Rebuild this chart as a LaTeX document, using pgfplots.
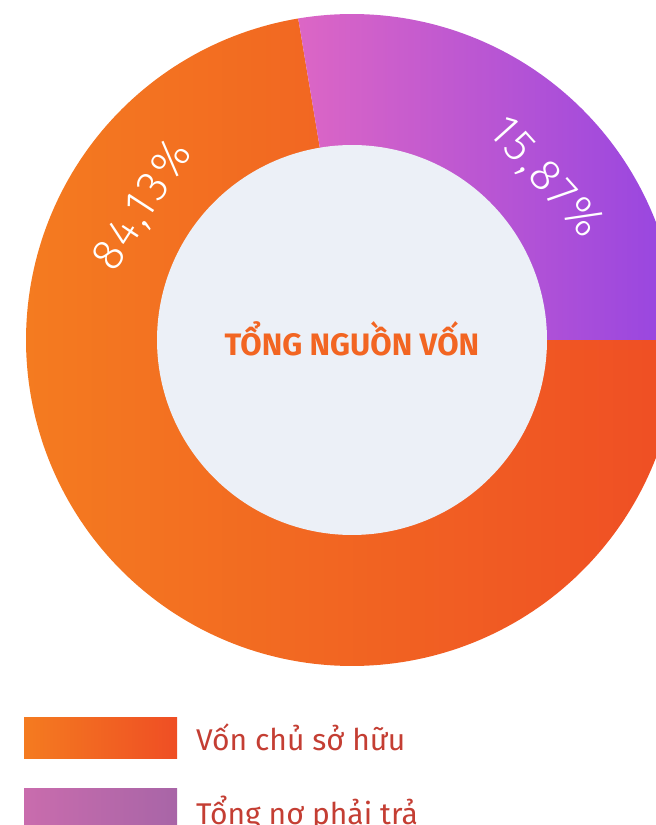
\documentclass[border=0pt]{standalone}
\usepackage{pgfplots}
\pgfplotsset{compat=1.18}
\usepackage{fontspec}
\setmainfont{Fira Sans}
\newfontfamily\lightfont{Fira Sans Light}[LetterSpace=7]
\definecolor{orA}{HTML}{F47B20}
\definecolor{orB}{HTML}{EF4E24}
\definecolor{puA}{HTML}{DC66C5}
\definecolor{puB}{HTML}{9645E1}
\definecolor{lpA}{HTML}{C96CAD}
\definecolor{lpB}{HTML}{A865A7}
\definecolor{inner}{HTML}{ECF0F7}
\definecolor{ttl}{HTML}{F26522}
\definecolor{legtxt}{HTML}{C43E33}
\begin{document}
\begin{tikzpicture}
\begin{axis}[at={(0,0)}, anchor=south west,
  width=656pt, height=825pt, scale only axis,
  xmin=0, xmax=656, ymin=0, ymax=825,
  axis lines=none, ticks=none, clip=true]
% segments: angles (deg) as drawn: Tong no phai tra 0..99.5, Von chu so huu 99.5..360
\addplot[draw=none, left color=orA, right color=orB, domain=99.5:360, samples=200]
  ({352+326*cos(x)},{485+326*sin(x)}) -- (axis cs:352,485) -- cycle;
\addplot[draw=none, left color=puA, right color=puB, domain=0:99.5, samples=100]
  ({352+326*cos(x)},{485+326*sin(x)}) -- (axis cs:352,485) -- cycle;
\addplot[draw=none, fill=inner, domain=0:360, samples=240]
  ({352+195*cos(x)},{485+195*sin(x)}) -- cycle;
\node[white, rotate=57, font=\lightfont\fontsize{45}{45}\selectfont] at (axis cs:143,619) {84,13\%};
\node[white, rotate=-48, font=\lightfont\fontsize{45}{45}\selectfont] at (axis cs:545,647) {15,87\%};
\node[ttl, anchor=base, font=\bfseries\fontsize{31}{31}\selectfont] at (axis cs:352,469) {TỔNG NGUỒN VỐN};
% legend
\fill[left color=orA, right color=orB] (axis cs:24,107) rectangle (axis cs:177,66);
\fill[left color=lpA, right color=lpB] (axis cs:24,36) rectangle (axis cs:177,-10);
\node[legtxt, anchor=base west, inner sep=0pt, font=\fontsize{30}{30}\selectfont] at (axis cs:196,74) {Vốn chủ sở hữu};
\node[legtxt, anchor=base west, inner sep=0pt, font=\fontsize{30}{30}\selectfont] at (axis cs:196,1) {Tổng nợ phải trả};
\end{axis}
\pgfresetboundingbox
\path[use as bounding box] (0,0) rectangle (656pt,825pt);
\end{tikzpicture}
\end{document}
